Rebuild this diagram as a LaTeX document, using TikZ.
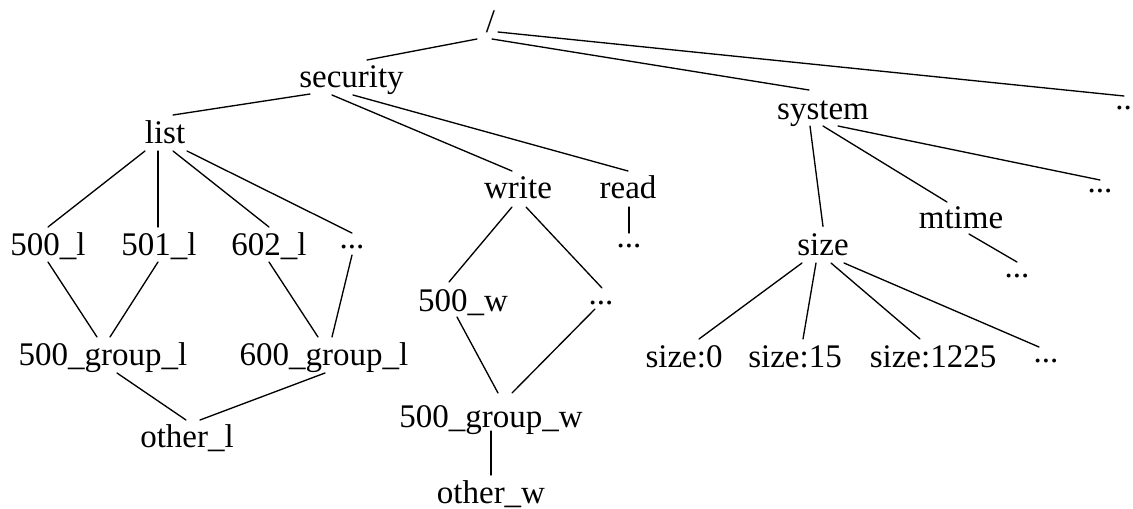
\documentclass[tikz,border=0pt]{standalone}
\usepackage{fontspec}
\setmainfont{Liberation Serif}
\newcommand\lnk[4]{\draw[edgeline] ([shift={(#2)}]#1.base) -- ([shift={(#4)}]#3.base);}
\begin{document}
\begin{tikzpicture}[x=0.75pt,y=-0.75pt,
  every node/.style={inner sep=0pt, anchor=base, font=\fontsize{24.75}{30}\selectfont},
  edgeline/.style={line width=1pt, line cap=round}]
\useasboundingbox (0,0) rectangle (1133,508);
% nodes (x = text centre, y = baseline, in pixels)
\node (slash) at (490.5,32) {/};
\node (sec) at (351.5,87) {security};
\node (list) at (165,143) {list};
\node (la) at (48,255) {500\_l};
\node (lb) at (159,255) {501\_l};
\node (lc) at (269,255) {602\_l};
\node (ld) at (352,248) {...};
\node (gl5) at (103,365) {500\_group\_l};
\node (gl6) at (324,365) {600\_group\_l};
\node (ol) at (187,447) {other\_l};
\node (wr) at (518,198) {write};
\node (rd) at (628,198) {read};
\node (rdd) at (629,247) {...};
\node (w5) at (463,311) {500\_w};
\node (wd) at (601,304) {...};
\node (gw) at (491,427) {500\_group\_w};
\node (ow) at (491,503) {other\_w};
\node (sys) at (823,119) {system};
\node (td) at (1123.5,109) {..};
\node (sd) at (1100,192) {...};
\node (sz) at (823,255) {size};
\node (mt) at (961,228) {mtime};
\node (md) at (1017,277) {...};
\node (s0) at (684,367) {size:0};
\node (s15) at (795,367) {size:15};
\node (s1225) at (933,367) {size:1225};
\node (szd) at (1046,362) {...};
% edges
\lnk{slash}{-13.5,7}{sec}{15.5,-27}
\lnk{slash}{1.5,7}{sys}{-14,-29}
\lnk{slash}{7.5,0}{td}{0.5,-13}
\lnk{sec}{-41.5,7}{list}{8,-28}
\lnk{sec}{-19.5,8}{wr}{-6,-27}
\lnk{sec}{1.5,8}{rd}{0,-27}
\lnk{list}{-20,8}{la}{0,-28}
\lnk{list}{-7,8}{lb}{-1,-28}
\lnk{list}{8,8}{lc}{0,-28}
\lnk{list}{22,8}{ld}{0,-15}
\lnk{la}{0,7}{gl5}{-6,-28}
\lnk{lb}{-1,7}{gl5}{7,-28}
\lnk{lc}{0,7}{gl6}{-6,-28}
\lnk{ld}{0,7}{gl6}{8,-28}
\lnk{gl5}{14,8}{ol}{-1,-27}
\lnk{gl6}{1,8}{ol}{13,-27}
\lnk{wr}{-6,9}{w5}{-14,-29}
\lnk{wr}{8,9}{wd}{1,-16}
\lnk{rd}{1,9}{rdd}{0,-14}
\lnk{w5}{-6,6}{gw}{7,-34}
\lnk{wd}{-6,5}{gw}{21,-34}
\lnk{gw}{0,4}{ow}{0,-28}
\lnk{sys}{-13,7}{sz}{0,-28.5}
\lnk{sys}{0,7}{mt}{-14,-26}
\lnk{sys}{15,7}{sd}{0,-12}
\lnk{mt}{8,6}{md}{0,-15}
\lnk{sz}{-21,8}{s0}{15,-28}
\lnk{sz}{-7,8}{s15}{8,-28}
\lnk{sz}{8,8}{s1225}{-13,-28}
\lnk{sz}{21,8}{szd}{-7,-15}
\end{tikzpicture}
\end{document}
